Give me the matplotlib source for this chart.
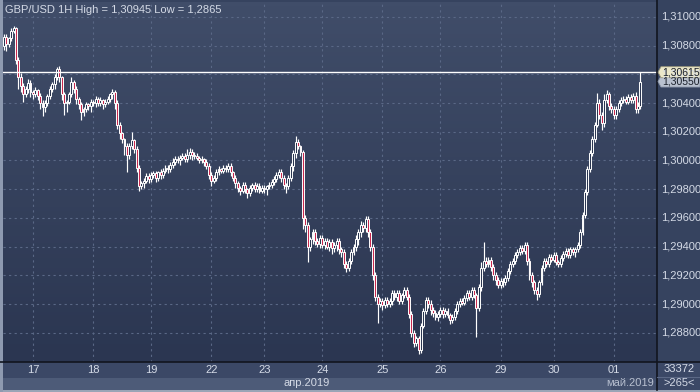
import matplotlib
matplotlib.use('Agg')
import matplotlib.pyplot as plt
import numpy as np
from matplotlib.colors import LinearSegmentedColormap
from matplotlib.patches import Rectangle, Polygon

plt.rcParams['font.family'] = ['Liberation Sans', 'DejaVu Sans']

# hourly closes GBP/USD, 16.04 - 01.05.2019
closes = [
    1.3086, 1.3081, 1.3085, 1.3090, 1.3092, 1.3070, 1.3058, 1.3052, 1.3046, 1.3050,
    1.3054, 1.3048, 1.3046, 1.3049, 1.3045, 1.3040, 1.3037, 1.3040, 1.3045, 1.3050,
    1.3053, 1.3058, 1.3064, 1.3058, 1.3046, 1.3040, 1.3041, 1.3046, 1.3055, 1.3050,
    1.3043, 1.3039, 1.3034, 1.3036, 1.3039, 1.3038, 1.3041, 1.3040, 1.3043, 1.3040,
    1.3042, 1.3039, 1.3041, 1.3043, 1.3046, 1.3048, 1.3040, 1.3025, 1.3019, 1.3015,
    1.3010, 1.3004, 1.3010, 1.3014, 1.3008, 1.2995, 1.2982, 1.2984, 1.2986, 1.2989,
    1.2987, 1.2990, 1.2991, 1.2988, 1.2992, 1.2990, 1.2993, 1.2995, 1.2994, 1.2997,
    1.2999, 1.3001, 1.3000, 1.3002, 1.3003, 1.3001, 1.3004, 1.3006, 1.3004, 1.3003,
    1.3002, 1.3000, 1.3001, 1.2999, 1.2996, 1.2990, 1.2986, 1.2988, 1.2992, 1.2994,
    1.2993, 1.2995, 1.2994, 1.2996, 1.2992, 1.2988, 1.2984, 1.2981, 1.2979, 1.2983,
    1.2980, 1.2977, 1.2981, 1.2983, 1.2980, 1.2982, 1.2979, 1.2981, 1.2980, 1.2982,
    1.2983, 1.2985, 1.2987, 1.2990, 1.2992, 1.2988, 1.2983, 1.2982, 1.2988, 1.2996,
    1.3005, 1.3013, 1.3010, 1.3006, 1.2960, 1.2955, 1.2940, 1.2945, 1.2950, 1.2944,
    1.2942, 1.2946, 1.2941, 1.2944, 1.2940, 1.2943, 1.2939, 1.2941, 1.2944, 1.2938,
    1.2936, 1.2928, 1.2925, 1.2930, 1.2936, 1.2940, 1.2945, 1.2950, 1.2955, 1.2953,
    1.2959, 1.2950, 1.2940, 1.2920, 1.2905, 1.2900, 1.2902, 1.2899, 1.2903, 1.2900,
    1.2902, 1.2908, 1.2905, 1.2908, 1.2902, 1.2906, 1.2910, 1.2905, 1.2893, 1.2880,
    1.2873, 1.2876, 1.2868, 1.2885, 1.2895, 1.2903, 1.2900, 1.2896, 1.2894, 1.2891,
    1.2893, 1.2896, 1.2893, 1.2895, 1.2892, 1.2889, 1.2891, 1.2895, 1.2900, 1.2902,
    1.2901, 1.2904, 1.2908, 1.2905, 1.2910, 1.2906, 1.2897, 1.2912, 1.2925, 1.2930,
    1.2928, 1.2931, 1.2926, 1.2920, 1.2917, 1.2913, 1.2916, 1.2915, 1.2918, 1.2923,
    1.2928, 1.2930, 1.2934, 1.2936, 1.2939, 1.2937, 1.2941, 1.2930, 1.2920, 1.2915,
    1.2910, 1.2907, 1.2915, 1.2925, 1.2930, 1.2928, 1.2933, 1.2931, 1.2934, 1.2929,
    1.2928, 1.2932, 1.2935, 1.2937, 1.2934, 1.2938, 1.2936, 1.2938, 1.2941, 1.2950,
    1.2962, 1.2978, 1.2994, 1.3005, 1.3015, 1.3025, 1.3040, 1.3032, 1.3026, 1.3042,
    1.3046, 1.3038, 1.3036, 1.3032, 1.3036, 1.3040, 1.3042, 1.3043, 1.3041, 1.3044,
    1.3042, 1.3045, 1.3036, 1.3038, 1.3055,
]
first_open = 1.3080

# upper / lower shadows in pips
wick_up = [
    2, 2, 1, 2, 2, 1, 2, 3, 2, 2, 3, 2, 1, 2, 1, 2, 2, 2, 1, 2,
    2, 2, 1, 2, 1, 2, 1, 2, 3, 1, 2, 1, 2, 1, 2, 1, 2, 1, 2, 1,
    2, 1, 2, 2, 1, 2, 1, 2, 2, 1, 1, 2, 2, 6, 1, 2, 2, 2, 2, 2,
    2, 2, 2, 2, 1, 2, 2, 2, 2, 2, 3, 2, 2, 2, 2, 2, 4, 3, 2, 2,
    2, 1, 2, 1, 2, 2, 2, 2, 2, 2, 1, 2, 2, 2, 2, 1, 2, 2, 1, 2,
    2, 1, 2, 1, 2, 2, 2, 2, 2, 1, 2, 2, 2, 2, 2, 2, 2, 1, 2, 2,
    2, 4, 2, 1, 1, 2, 2, 2, 2, 2, 2, 2, 2, 2, 2, 2, 2, 2, 2, 2,
    2, 2, 2, 2, 2, 2, 3, 2, 3, 2, 2, 2, 2, 2, 2, 2, 2, 2, 2, 2,
    2, 2, 2, 2, 2, 2, 2, 2, 2, 2, 2, 2, 2, 2, 2, 2, 2, 3, 2, 2,
    2, 2, 2, 2, 2, 2, 2, 2, 2, 2, 2, 2, 2, 2, 2, 2, 2, 2, 4, 13,
    3, 2, 2, 2, 2, 2, 2, 2, 2, 2, 2, 2, 2, 2, 2, 2, 2, 2, 2, 2,
    2, 2, 2, 2, 2, 2, 2, 2, 2, 2, 2, 2, 2, 2, 2, 2, 2, 2, 2, 2,
    2, 2, 2, 2, 2, 2, 7, 3, 2, 4, 3, 2, 2, 2, 2, 2, 2, 2, 2, 2,
    2, 2, 3, 3, 6.5,
]
wick_dn = [
    3, 5, 2, 2, 1, 3, 8, 4, 5, 2, 3, 4, 3, 2, 3, 4, 6, 3, 2, 2,
    2, 3, 2, 3, 4, 8, 6, 2, 2, 3, 4, 3, 6, 3, 2, 3, 4, 2, 3, 2,
    2, 3, 2, 2, 2, 3, 4, 3, 4, 3, 6, 12, 3, 2, 3, 3, 3, 2, 3, 2,
    3, 2, 2, 3, 2, 3, 2, 2, 3, 2, 2, 2, 2, 3, 2, 2, 2, 3, 4, 2,
    2, 2, 2, 3, 2, 3, 4, 2, 2, 2, 2, 2, 2, 2, 3, 2, 3, 3, 3, 2,
    3, 3, 2, 2, 2, 2, 2, 2, 3, 4, 2, 2, 2, 2, 2, 3, 3, 5, 2, 2,
    3, 3, 2, 3, 8, 5, 11, 3, 3, 3, 2, 3, 2, 3, 2, 3, 4, 3, 4, 3,
    3, 3, 3, 2, 2, 2, 3, 4, 3, 3, 3, 3, 3, 3, 3, 13, 2, 3, 2, 2,
    2, 3, 2, 3, 2, 2, 2, 2, 3, 3, 3, 2, 3, 2, 2, 2, 3, 4, 3, 2,
    3, 2, 3, 2, 2, 3, 2, 2, 2, 2, 2, 2, 2, 2, 2, 2, 20, 2, 3, 2,
    2, 2, 3, 3, 4, 2, 2, 3, 2, 2, 2, 2, 2, 2, 2, 2, 2, 3, 3, 3,
    3, 4, 2, 2, 2, 2, 2, 2, 2, 2, 2, 2, 2, 2, 2, 2, 2, 3, 2, 2,
    2, 2, 2, 2, 2, 2, 2, 3, 5, 3, 2, 3, 3, 3, 3, 2, 2, 2, 2, 2,
    2, 2, 3, 3, 2,
]

day_bars = [12, 37, 61, 86, 108, 132, 157, 181, 206, 228, 253]
day_labels = ['17', '18', '19', '22', '23', '24', '25', '26', '29', '30', '01']
price_ticks = [1.288, 1.290, 1.292, 1.294, 1.296, 1.298, 1.300, 1.302, 1.304, 1.306, 1.308, 1.310]
bid_line = 1.30615
last_close = 1.30550
title = 'GBP/USD 1H High = 1,30945 Low = 1,2865'

BG_TOP = '#404d69'
BG_BOT = '#2b3651'
GRID = '#5a6886'
TXT = '#d4dae6'
RED = '#c8284e'

W, H = 700, 392


def fx(px):
    return px / W


def fy(py):
    return 1 - py / H


fig = plt.figure(figsize=(7, 3.92), dpi=100)
fig.patch.set_facecolor('#36435f')

ax = fig.add_axes([fx(3), fy(362), fx(654), 360 / H])
ax.set_xlim(-0.4, 270.9)
ax.set_ylim(1.28596, 1.31104)

# фон с градиентом
cmap = LinearSegmentedColormap.from_list('bg', [BG_BOT, BG_TOP])
ax.imshow(np.linspace(0, 1, 100).reshape(-1, 1)[::-1], cmap=cmap, aspect='auto',
          extent=[0, 1, 0, 1], transform=ax.transAxes, zorder=0)

for b in day_bars:
    ax.axvline(b, color=GRID, lw=0.8, ls=(0, (2, 3)), zorder=1)
for p in price_ticks:
    ax.axhline(p, color=GRID, lw=0.8, ls=(0, (2, 3)), zorder=1)

n = len(closes)
opens = [first_open] + closes[:-1]
x = np.arange(n)
highs = [max(o, c) + u / 10000 for o, c, u in zip(opens, closes, wick_up)]
lows = [min(o, c) - d / 10000 for o, c, d in zip(opens, closes, wick_dn)]

ax.vlines(x, lows, highs, color='white', lw=0.85, zorder=2)
for i in range(n):
    o, c = opens[i], closes[i]
    bot = min(o, c)
    h = max(abs(c - o), 0.00002)
    fc = RED if c < o else BG_BOT
    ax.add_patch(Rectangle((i - 0.4, bot), 0.8, h, facecolor=fc,
                           edgecolor='white', lw=0.7, zorder=3))

ax.axhline(bid_line, color='white', lw=1.0, zorder=4)

ax.text(0.003, 0.992, title, transform=ax.transAxes, ha='left', va='top',
        color=TXT, fontsize=8, zorder=5)
ax.text(629, 1.28625, '5', color=TXT, fontsize=8, ha='center', va='bottom', zorder=5)

ax.set_xticks([])
ax.set_yticks([])
for s in ax.spines.values():
    s.set_visible(False)

# нижние полосы
fig.patches.append(Rectangle((0, fy(378)), 1, fy(362) - fy(378), transform=fig.transFigure,
                             facecolor='#3b4866', zorder=0))
fig.patches.append(Rectangle((0, fy(390)), 1, fy(378) - fy(390), transform=fig.transFigure,
                             facecolor='#4d5b78', zorder=0))
fig.patches.append(Rectangle((0, 0), 1, fy(390), transform=fig.transFigure,
                             facecolor='#9aa4b6', zorder=0))
fig.patches.append(Rectangle((0, 0), fx(3), 1, transform=fig.transFigure,
                             facecolor='#8e9ab0', zorder=1))
fig.patches.append(Rectangle((fx(611), fy(390)), fx(46), fy(378) - fy(390), transform=fig.transFigure,
                             facecolor='#424f6c', zorder=1))
fig.patches.append(Rectangle((fx(657), fy(390)), fx(43), fy(362) - fy(390), transform=fig.transFigure,
                             facecolor='#3b4866', zorder=1))
# разделители
fig.lines.append(plt.Line2D([fx(0), fx(700)], [fy(362), fy(362)], transform=fig.transFigure,
                            color='#11151f', lw=1.2))
fig.lines.append(plt.Line2D([fx(657), fx(657)], [fy(0), fy(390)], transform=fig.transFigure,
                            color='#11151f', lw=1.2))
fig.lines.append(plt.Line2D([fx(657), fx(700)], [fy(377), fy(377)], transform=fig.transFigure,
                            color='#5b6885', lw=0.8))

# подписи дней
for b, lab in zip(day_bars, day_labels):
    xp = ax.transData.transform((b, 0))[0] / fig.dpi / 7
    fig.text(xp, fy(370), lab, color=TXT, fontsize=8, ha='center', va='center')
fig.text(fx(330), fy(383.5), 'апр.2019', color=TXT, fontsize=8, ha='right', va='center')
fig.text(fx(654), fy(383.5), 'май.2019', color='#b8c0d0', fontsize=8, ha='right', va='center')
fig.text(fx(679), fy(369.5), '33372', color=TXT, fontsize=8, ha='center', va='center')
fig.text(fx(679), fy(383.5), '>265<', color=TXT, fontsize=8, ha='center', va='center')

# шкала цен справа
for p in price_ticks:
    yp = ax.transData.transform((0, p))[1] / fig.dpi / 3.92
    fig.text(fx(661), yp, f'{p:.5f}'.replace('.', ','), color=TXT, fontsize=8,
             ha='left', va='center')


def price_tag(price, text, fc, ec):
    yp = ax.transData.transform((0, price))[1] / fig.dpi / 3.92
    hh = 5.5 / H
    poly = Polygon([(fx(658), yp), (fx(661), yp + hh), (fx(700), yp + hh),
                    (fx(700), yp - hh), (fx(661), yp - hh)], closed=True,
                   transform=fig.transFigure, facecolor=fc, edgecolor=ec, lw=0.6, zorder=3)
    fig.patches.append(poly)
    fig.text(fx(662), yp, text, color='#1a1f2a', fontsize=7.5, ha='left', va='center', zorder=4)


price_tag(last_close, '1,30550', '#b9c1cf', '#8e98aa')
price_tag(bid_line, '1,30615', '#ebe7c9', '#9a967a')

fig.savefig('out.png', dpi=100, facecolor=fig.get_facecolor())
